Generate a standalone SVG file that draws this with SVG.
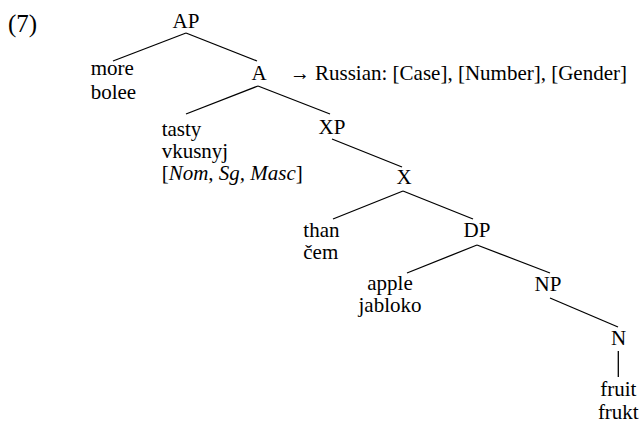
<svg xmlns="http://www.w3.org/2000/svg" width="641" height="423" viewBox="0 0 641 423">
<style>
text{font-family:"Liberation Serif","Times New Roman",serif;font-size:21px;fill:#000}
.c{text-anchor:middle}
.e{stroke:#000;stroke-width:1.3;fill:none}
</style>
<rect width="641" height="423" fill="#fff"/>
<text x="8" y="32" style="font-size:25px">(7)</text>
<g id="connectors">
<line class="e" x1="186" y1="33" x2="113" y2="61"/>
<line class="e" x1="186" y1="33" x2="257" y2="61"/>
<line class="e" x1="258" y1="86" x2="186" y2="114"/>
<line class="e" x1="258" y1="86" x2="330" y2="114"/>
<line class="e" x1="332" y1="139" x2="402" y2="167"/>
<line class="e" x1="403" y1="191" x2="333" y2="219"/>
<line class="e" x1="403" y1="191" x2="473" y2="219"/>
<line class="e" x1="477" y1="245" x2="407" y2="273"/>
<line class="e" x1="477" y1="245" x2="550" y2="273"/>
<line class="e" x1="550" y1="298" x2="618" y2="327"/>
<line class="e" x1="618.3" y1="351" x2="618.3" y2="377"/>
</g>
<g id="AP"><text class="c" x="186" y="28">AP</text></g>
<g id="more"><text x="90.7" y="75">more</text><text x="90.7" y="99">bolee</text></g>
<g id="A"><text class="c" x="259" y="80">A</text><text x="290" y="80" textLength="20" lengthAdjust="spacingAndGlyphs">→</text><text x="315" y="80">Russian: [Case], [Number], [Gender]</text></g>
<g id="tasty"><text x="161.7" y="136">tasty</text><text x="161.7" y="158">vkusnyj</text><text x="161.7" y="180">[<tspan font-style="italic">Nom, Sg, Masc</tspan>]</text></g>
<g id="XP"><text class="c" x="332" y="134">XP</text></g>
<g id="X"><text class="c" x="404" y="184">X</text></g>
<g id="than"><text x="303.3" y="237">than</text><text x="303.3" y="259">čem</text></g>
<g id="DP"><text class="c" x="477" y="237">DP</text></g>
<g id="apple"><text class="c" x="390" y="290">apple</text><text class="c" x="390" y="312">jabloko</text></g>
<g id="NP"><text class="c" x="548" y="291">NP</text></g>
<g id="N"><text class="c" x="618.5" y="345">N</text></g>
<g id="fruit"><text class="c" x="618.3" y="396">fruit</text><text class="c" x="618.3" y="419">frukt</text></g>
</svg>
